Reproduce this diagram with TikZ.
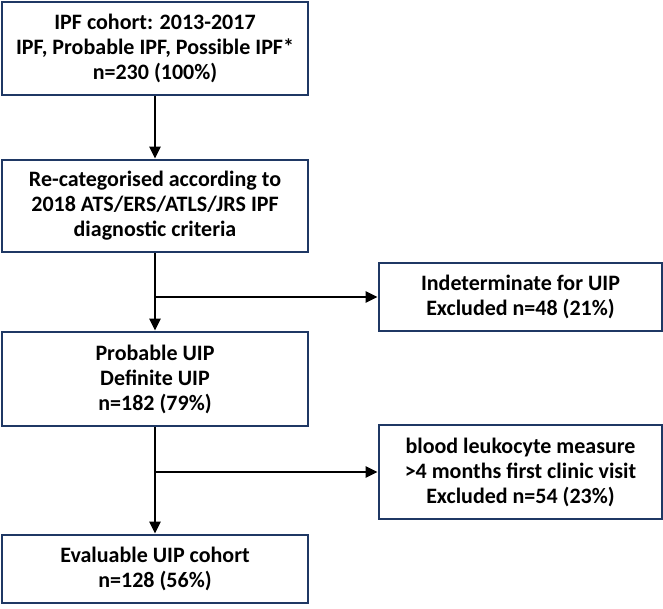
\documentclass[tikz,border=0pt]{standalone}
\usepackage{fontspec}
\setmainfont{Carlito}
\usepackage{tikz}
\usetikzlibrary{arrows.meta,positioning}

\definecolor{boxnavy}{RGB}{31,56,100}

\tikzset{
	flowbox/.style={draw=boxnavy, line width=2.8pt, rectangle, fill=white, align=center, inner sep=0pt,
		font=\fontsize{22}{25}\selectfont\bfseries},
	mainbox/.style={flowbox, minimum width=306pt},
	sidebox/.style={flowbox, minimum width=283pt},
	flowarrow/.style={line width=2.4pt, -{Triangle[length=12pt,width=11pt]}}
}

\begin{document}
\begin{tikzpicture}[x=1pt,y=-1pt]
	\useasboundingbox (0,0) rectangle (663,608);

	% main column
	\node[mainbox, minimum height=93pt] (cohort) at (155,48.5) {IPF cohort: 2013-2017\\IPF, Probable IPF, Possible IPF*\\n=230 (100\%)};
	\node[mainbox, minimum height=92pt] (recat) at (155,206) {Re-categorised according to\\2018 ATS/ERS/ATLS/JRS IPF\\diagnostic criteria};
	\node[mainbox, minimum height=94pt] (uip) at (155,379) {Probable UIP\\Definite UIP\\n=182 (79\%)};
	\node[mainbox, minimum height=68pt] (evaluable) at (155,569) {Evaluable UIP cohort\\n=128 (56\%)};

	% excluded boxes
	\node[sidebox, minimum height=68pt] (indet) at (520.5,297) {Indeterminate for UIP\\Excluded n=48 (21\%)};
	\node[sidebox, minimum height=94pt] (leuko) at (520.5,472) {blood leukocyte measure\\>4 months first clinic visit\\Excluded n=54 (23\%)};

	% connectors
	\draw[flowarrow] (cohort) -- (recat);
	\draw[flowarrow] (recat) -- (uip);
	\draw[flowarrow] (uip) -- (evaluable);
	\draw[flowarrow] (recat |- indet.west) -- (indet.west);
	\draw[flowarrow] (uip |- leuko.west) -- (leuko.west);
\end{tikzpicture}
\end{document}
